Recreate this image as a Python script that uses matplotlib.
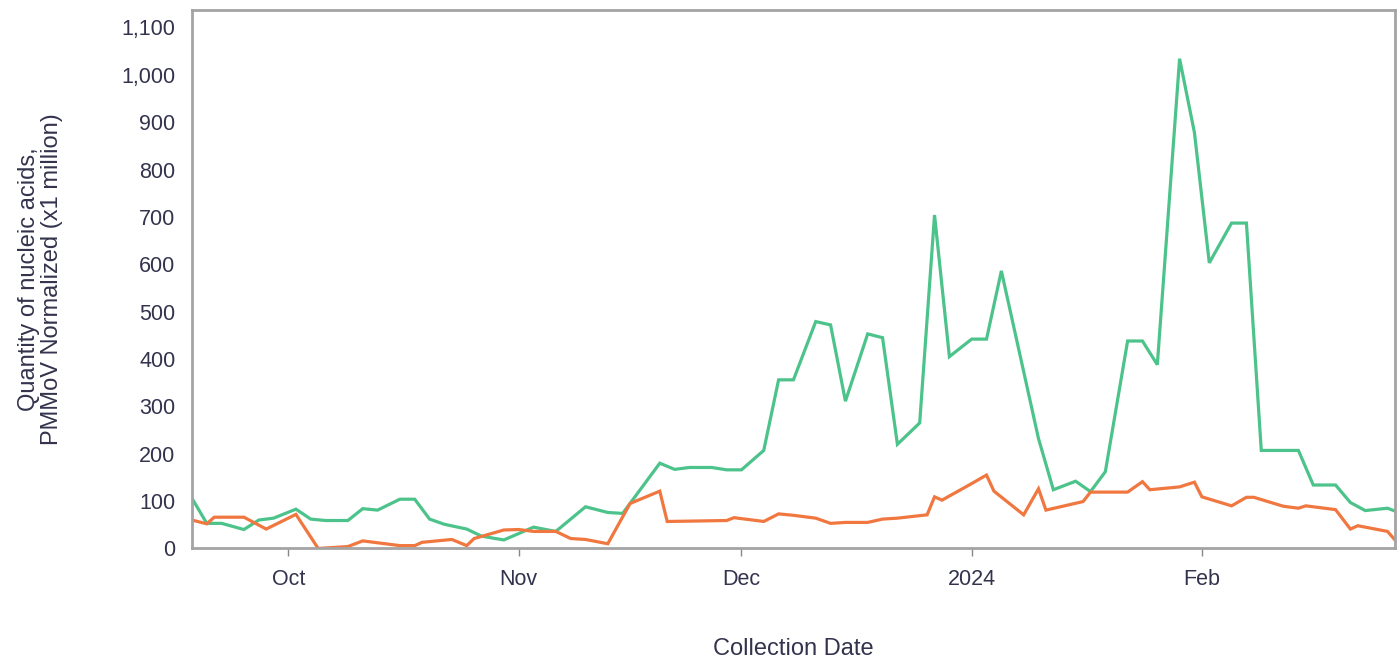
import matplotlib
matplotlib.use("Agg")
import matplotlib.pyplot as plt
from matplotlib.ticker import FuncFormatter
import pandas as pd

green_dates = ["2023-09-18", "2023-09-20", "2023-09-22", "2023-09-25", "2023-09-27", "2023-09-29",
               "2023-10-02", "2023-10-04", "2023-10-06", "2023-10-09", "2023-10-11", "2023-10-13",
               "2023-10-16", "2023-10-18", "2023-10-20", "2023-10-22", "2023-10-25", "2023-10-27",
               "2023-10-30", "2023-11-03", "2023-11-06", "2023-11-10", "2023-11-13", "2023-11-15",
               "2023-11-20", "2023-11-22", "2023-11-24", "2023-11-27", "2023-11-29", "2023-12-01",
               "2023-12-04", "2023-12-06", "2023-12-08", "2023-12-11", "2023-12-13", "2023-12-15",
               "2023-12-18", "2023-12-20", "2023-12-22", "2023-12-25", "2023-12-27", "2023-12-29",
               "2024-01-01", "2024-01-03", "2024-01-05", "2024-01-10", "2024-01-12", "2024-01-15",
               "2024-01-17", "2024-01-19", "2024-01-22", "2024-01-24", "2024-01-26", "2024-01-29",
               "2024-01-31", "2024-02-02", "2024-02-05", "2024-02-07", "2024-02-09", "2024-02-14",
               "2024-02-16", "2024-02-19", "2024-02-21", "2024-02-23", "2024-02-26", "2024-02-27"]
green_values = [106, 53, 53, 40, 60, 64,
                83, 62, 59, 59, 84, 81,
                104, 104, 62, 51, 41, 26,
                18, 45, 36, 88, 76, 74,
                180, 167, 171, 171, 166, 166,
                207, 356, 356, 479, 472, 311,
                453, 445, 220, 265, 704, 405,
                442, 442, 586, 232, 124, 142,
                120, 162, 438, 438, 388, 1034,
                878, 603, 687, 687, 207, 207,
                134, 134, 97, 80, 85, 79]

orange_dates = ["2023-09-18", "2023-09-20", "2023-09-21", "2023-09-25", "2023-09-28", "2023-10-02",
                "2023-10-05", "2023-10-09", "2023-10-11", "2023-10-16", "2023-10-18", "2023-10-19",
                "2023-10-23", "2023-10-25", "2023-10-26", "2023-10-30", "2023-11-01", "2023-11-03",
                "2023-11-06", "2023-11-08", "2023-11-10", "2023-11-13", "2023-11-16", "2023-11-20",
                "2023-11-21", "2023-11-29", "2023-11-30", "2023-12-04", "2023-12-06", "2023-12-08",
                "2023-12-11", "2023-12-13", "2023-12-15", "2023-12-18", "2023-12-20", "2023-12-22",
                "2023-12-26", "2023-12-27", "2023-12-28", "2024-01-01", "2024-01-03", "2024-01-04",
                "2024-01-08", "2024-01-10", "2024-01-11", "2024-01-16", "2024-01-17", "2024-01-22",
                "2024-01-24", "2024-01-25", "2024-01-29", "2024-01-31", "2024-02-01", "2024-02-05",
                "2024-02-07", "2024-02-08", "2024-02-12", "2024-02-14", "2024-02-15", "2024-02-19",
                "2024-02-21", "2024-02-22", "2024-02-26", "2024-02-27"]
orange_values = [60, 52, 66, 66, 41, 72,
                 0, 4, 16, 6, 6, 13,
                 19, 6, 21, 39, 40, 36,
                 36, 21, 19, 10, 95, 121,
                 57, 59, 65, 57, 73, 70,
                 64, 53, 55, 55, 62, 64,
                 71, 109, 102, 137, 155, 121,
                 71, 126, 81, 99, 119, 119,
                 141, 124, 130, 140, 109, 90,
                 108, 108, 89, 85, 90, 82,
                 41, 48, 36, 18]

y_ticks = list(range(0, 1101, 100))
x_tick_dates = ["2023-10-01", "2023-11-01", "2023-12-01", "2024-01-01", "2024-02-01"]
x_tick_labels = ["Oct", "Nov", "Dec", "2024", "Feb"]

plt.rcParams["font.family"] = ["Liberation Sans", "DejaVu Sans"]
text_color = "#33334d"

fig = plt.figure(figsize=(13.99, 6.62), dpi=100)
ax = fig.add_axes([0.1372, 0.1715, 0.8599, 0.8135])

gd = pd.to_datetime(green_dates)
od = pd.to_datetime(orange_dates)
ax.plot(gd, green_values, color="#4cc38a", lw=2.3, solid_joinstyle="miter")
ax.plot(od, orange_values, color="#f0773f", lw=2.3, solid_joinstyle="miter")

ax.set_xlim(min(gd.min(), od.min()), max(gd.max(), od.max()))
ax.set_ylim(0, 1137)
ax.set_yticks(y_ticks)
ax.yaxis.set_major_formatter(FuncFormatter(lambda v, p: f"{int(v):,}"))
ax.set_xticks(pd.to_datetime(x_tick_dates))
ax.set_xticklabels(x_tick_labels)

ax.tick_params(axis="y", length=0, pad=12, labelsize=15.5, labelcolor=text_color)
ax.tick_params(axis="x", length=6, width=1, color="#888888", pad=9, labelsize=15.5,
               labelcolor=text_color)

for s in ax.spines.values():
    s.set_color("#a4a4a4")
    s.set_linewidth(2.0)

ax.set_xlabel("Collection Date", fontsize=17, color=text_color)
ax.xaxis.set_label_coords(0.4996, -0.166)
ax.set_ylabel("Quantity of nucleic acids,\nPMMoV Normalized (x1 million)", fontsize=17,
              color=text_color, linespacing=1.1)
ax.yaxis.set_label_coords(-0.107, 0.5)

fig.savefig("out.png", dpi=100)
